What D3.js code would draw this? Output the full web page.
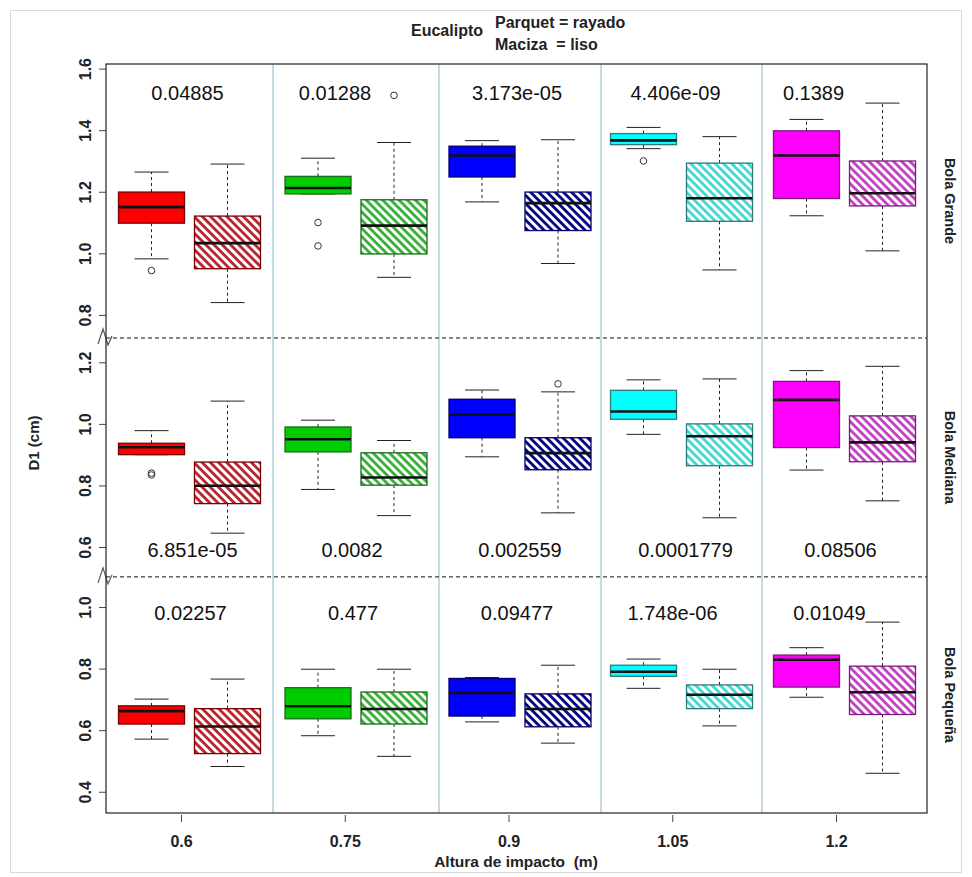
<!DOCTYPE html>
<html>
<head>
<meta charset="utf-8">
<script src="https://cdn.jsdelivr.net/npm/d3@7"></script>
<style>
  body { margin: 0; background: #fff; }
  svg { font-family: "Liberation Sans", Arial, sans-serif; }
</style>
</head>
<body>
<svg id="chart" width="972" height="877"></svg>
<script>
// ---- Données ----
const alturas = ["0.6", "0.75", "0.9", "1.05", "1.2"];
const bolas = ["Bola Grande", "Bola Mediana", "Bola Pequeña"];
const superficies = ["Maciza", "Parquet"]; // liso, rayado

// [bigote inf, Q1, mediana, Q3, bigote sup] ; orden : (0.6 Maciza, 0.6 Parquet, 0.75 Maciza, ...)
const statsGrande = [
  [0.982, 1.098, 1.150, 1.199, 1.264],
  [0.840, 0.950, 1.033, 1.121, 1.290],
  [1.193, 1.193, 1.212, 1.250, 1.309],
  [0.922, 0.998, 1.090, 1.174, 1.360],
  [1.167, 1.248, 1.318, 1.348, 1.366],
  [0.967, 1.074, 1.163, 1.199, 1.369],
  [1.340, 1.353, 1.367, 1.389, 1.409],
  [0.946, 1.104, 1.179, 1.293, 1.379],
  [1.122, 1.178, 1.318, 1.398, 1.435],
  [1.008, 1.154, 1.195, 1.300, 1.488]
];
const outliersGrande = [[0.944], [], [1.100, 1.024], [1.513], [], [], [1.300], [], [], []];

const statsMediana = [
  [0.900, 0.900, 0.924, 0.937, 0.978],
  [0.645, 0.741, 0.799, 0.876, 1.074],
  [0.787, 0.909, 0.950, 0.990, 1.012],
  [0.702, 0.801, 0.826, 0.906, 0.946],
  [0.893, 0.955, 1.030, 1.080, 1.110],
  [0.711, 0.851, 0.905, 0.955, 1.104],
  [0.966, 1.015, 1.040, 1.109, 1.143],
  [0.695, 0.864, 0.960, 1.000, 1.146],
  [0.850, 0.923, 1.078, 1.138, 1.173],
  [0.750, 0.877, 0.940, 1.026, 1.187]
];
const outliersMediana = [[0.840, 0.834], [], [], [], [], [1.130], [], [], [], []];

const statsPequena = [
  [0.571, 0.620, 0.662, 0.679, 0.701],
  [0.482, 0.524, 0.612, 0.670, 0.766],
  [0.582, 0.637, 0.678, 0.738, 0.798],
  [0.515, 0.620, 0.669, 0.724, 0.798],
  [0.627, 0.646, 0.721, 0.768, 0.771],
  [0.558, 0.611, 0.669, 0.718, 0.811],
  [0.736, 0.775, 0.790, 0.811, 0.831],
  [0.614, 0.670, 0.715, 0.747, 0.798],
  [0.707, 0.740, 0.829, 0.844, 0.868],
  [0.460, 0.651, 0.723, 0.808, 0.951]
];
const outliersPequena = [[], [], [], [], [], [], [], [], [], []];

// p-valores
const pGrande = ["0.04885", "0.01288", "3.173e-05", "4.406e-09", "0.1389"];
const pMediana = ["6.851e-05", "0.0082", "0.002559", "0.0001779", "0.08506"];
const pPequena = ["0.02257", "0.477", "0.09477", "1.748e-06", "0.01049"];

// ticks eje y
const ticksGrande = [0.8, 1.0, 1.2, 1.4, 1.6];
const ticksMediana = [0.6, 0.8, 1.0, 1.2];
const ticksPequena = [0.4, 0.6, 0.8, 1.0];

// colores
const fillColors = ["#ff0000", "#00cd00", "#0000ff", "#00ffff", "#ff00ff"];
const hatchColors = ["#b8202a", "#33b033", "#000080", "#40d8d0", "#c040c0"];
const borderColors = ["#7a0000", "#1a6a1a", "#00006a", "#2a7a7a", "#7a1a7a"];

// ---- Mise en page ----
const svg = d3.select("#chart");
const plot = {left: 106, right: 927, top: 64, bottom: 813};
const font = "'Liberation Sans', Arial, sans-serif";

const filas = [
  {nombre: bolas[0], stats: statsGrande, out: outliersGrande, p: pGrande, ticks: ticksGrande,
   domain: [0.725, 1.615], pY: 1.52, pDx: [-2, -21, -3, -6, -31]},
  {nombre: bolas[1], stats: statsMediana, out: outliersMediana, p: pMediana, ticks: ticksMediana,
   domain: [0.503, 1.279], pY: 0.589, pDx: [3, -4, 0, 4, -4]},
  {nombre: bolas[2], stats: statsPequena, out: outliersPequena, p: pPequena, ticks: ticksPequena,
   domain: [0.331, 1.098], pY: 0.98, pDx: [1, -3, -3, -9, -15]}
];

// hauteur de chaque rangée proportionnelle à son étendue
const totalUnits = d3.sum(filas, f => f.domain[1] - f.domain[0]);
const k = (plot.bottom - plot.top) / totalUnits;
let yCursor = plot.top;
filas.forEach(f => {
  const h = (f.domain[1] - f.domain[0]) * k;
  f.y0 = yCursor;
  f.y1 = yCursor + h;
  f.y = d3.scaleLinear().domain(f.domain).range([f.y1, f.y0]);
  yCursor += h;
});

// panneaux (altura)
const xPanel = d3.scaleLinear().domain([0, 1, 2, 3, 4, 5]).range([106, 273, 439, 601, 762, 927]);
const boxOffset = 38, boxW = 66, capW = 34;

// cadre gris
svg.append("rect")
  .attr("x", 10.5).attr("y", 10.5).attr("width", 951).attr("height", 862)
  .attr("fill", "none").attr("stroke", "#d9d9d9");

// motifs hachurés
const defs = svg.append("defs");
const hs = 5.8;
hatchColors.forEach((c, i) => {
  const p = defs.append("pattern")
    .attr("id", "hatch" + i)
    .attr("patternUnits", "userSpaceOnUse")
    .attr("width", hs).attr("height", hs)
    .attr("patternTransform", "rotate(-45)");
  p.append("rect").attr("width", hs).attr("height", hs).attr("fill", "#fff");
  p.append("line")
    .attr("x1", 1.5).attr("y1", 0).attr("x2", 1.5).attr("y2", hs)
    .attr("stroke", c).attr("stroke-width", 2.8);
});

// séparateurs verticaux bleu clair
[1, 2, 3, 4].forEach(i => {
  svg.append("line")
    .attr("x1", xPanel(i)).attr("x2", xPanel(i))
    .attr("y1", plot.top).attr("y2", plot.bottom)
    .attr("stroke", "#9fc2d2").attr("stroke-width", 1.2);
});

// lignes pointillées entre rangées
filas.slice(1).forEach(f => {
  svg.append("line")
    .attr("x1", plot.left).attr("x2", plot.right)
    .attr("y1", f.y0).attr("y2", f.y0)
    .attr("stroke", "#111").attr("stroke-dasharray", "4,3");
});

// boîtes
filas.forEach(f => {
  const g = svg.append("g");
  f.stats.forEach((s, j) => {
    const i = Math.floor(j / 2), sup = j % 2;
    const cx = xPanel(i + 0.5) + (sup ? boxOffset : -boxOffset);
    const [lo, q1, med, q3, hi] = s;
    // moustaches
    g.append("line").attr("x1", cx).attr("x2", cx).attr("y1", f.y(q3)).attr("y2", f.y(hi))
      .attr("stroke", "#222").attr("stroke-dasharray", "3,3");
    g.append("line").attr("x1", cx).attr("x2", cx).attr("y1", f.y(q1)).attr("y2", f.y(lo))
      .attr("stroke", "#222").attr("stroke-dasharray", "3,3");
    g.append("line").attr("x1", cx - capW / 2).attr("x2", cx + capW / 2).attr("y1", f.y(hi)).attr("y2", f.y(hi))
      .attr("stroke", "#222");
    g.append("line").attr("x1", cx - capW / 2).attr("x2", cx + capW / 2).attr("y1", f.y(lo)).attr("y2", f.y(lo))
      .attr("stroke", "#222");
    // boîte
    g.append("rect")
      .attr("x", cx - boxW / 2).attr("width", boxW)
      .attr("y", f.y(q3)).attr("height", f.y(q1) - f.y(q3))
      .attr("fill", sup ? `url(#hatch${i})` : fillColors[i])
      .attr("stroke", borderColors[i]).attr("stroke-width", 1.3);
    // médiane
    g.append("line").attr("x1", cx - boxW / 2).attr("x2", cx + boxW / 2).attr("y1", f.y(med)).attr("y2", f.y(med))
      .attr("stroke", "#111").attr("stroke-width", 2.6);
    // valeurs extrêmes
    f.out[j].forEach(v => {
      g.append("circle").attr("cx", cx).attr("cy", f.y(v)).attr("r", 3.3)
        .attr("fill", "none").attr("stroke", "#333").attr("stroke-width", 1);
    });
  });

  // p-valores
  f.p.forEach((t, i) => {
    svg.append("text")
      .attr("x", xPanel(i + 0.5) + f.pDx[i]).attr("y", f.y(f.pY))
      .attr("text-anchor", "middle").attr("dominant-baseline", "central")
      .attr("font-size", 20).attr("fill", "#111")
      .text(t);
  });

  // axe y
  const ax = svg.append("g")
    .attr("transform", `translate(${plot.left},0)`)
    .call(d3.axisLeft(f.y).tickValues(f.ticks).tickFormat(d3.format(".1f")).tickSize(7).tickPadding(4));
  ax.select(".domain").remove();
  ax.selectAll(".tick line").attr("stroke", "#444");
  ax.selectAll(".tick text")
    .attr("font-family", font).attr("font-size", 16).attr("font-weight", "bold").attr("fill", "#222")
    .attr("transform", "rotate(-90)")
    .attr("x", 0).attr("dy", 0).attr("y", -15)
    .attr("text-anchor", "middle");

  // étiquette de rangée
  svg.append("text")
    .attr("transform", `translate(950,${(f.y0 + f.y1) / 2}) rotate(90)`)
    .attr("text-anchor", "middle").attr("dominant-baseline", "central")
    .attr("font-size", 14.5).attr("font-weight", "bold").attr("fill", "#222")
    .text(f.nombre);
});

// zigzags de coupure d'axe
filas.slice(1).forEach(f => {
  const y0 = f.y0, x0 = plot.left;
  svg.append("path")
    .attr("d", d3.line()([[x0 - 8, y0 + 6], [x0 - 3, y0 - 9], [x0 + 2, y0 + 7], [x0 + 6, y0 - 2]]))
    .attr("fill", "none").attr("stroke", "#555").attr("stroke-width", 1.2);
});

// cadre du graphique
svg.append("rect")
  .attr("x", plot.left).attr("y", plot.top)
  .attr("width", plot.right - plot.left).attr("height", plot.bottom - plot.top)
  .attr("fill", "none").attr("stroke", "#222").attr("stroke-width", 1.2);

// axe x
const xTick = d3.scalePoint().domain(alturas).range([181, 836]);
const axX = svg.append("g")
  .attr("transform", `translate(0,${plot.bottom + 2})`)
  .call(d3.axisBottom(xTick).tickSize(7).tickPadding(14));
axX.select(".domain").remove();
axX.selectAll(".tick line").attr("stroke", "#444");
axX.selectAll(".tick text")
  .attr("font-family", font).attr("font-size", 16).attr("font-weight", "bold").attr("fill", "#222");

// titres des axes
svg.append("text")
  .attr("x", 516).attr("y", 867)
  .attr("text-anchor", "middle")
  .attr("font-size", 15.5).attr("font-weight", "bold").attr("fill", "#222")
  .style("white-space", "pre").attr("xml:space", "preserve")
  .text("Altura de impacto  (m)");

svg.append("text")
  .attr("transform", "translate(33,443) rotate(-90)")
  .attr("text-anchor", "middle").attr("dominant-baseline", "central")
  .attr("font-size", 15).attr("font-weight", "bold").attr("fill", "#222")
  .text("D1 (cm)");

// titre
svg.append("text").attr("x", 411).attr("y", 36)
  .attr("font-size", 16).attr("font-weight", "bold").attr("fill", "#222")
  .text("Eucalipto");
svg.append("text").attr("x", 495).attr("y", 28)
  .attr("font-size", 16).attr("font-weight", "bold").attr("fill", "#222")
  .text("Parquet = rayado");
svg.append("text").attr("x", 495).attr("y", 50)
  .attr("font-size", 16).attr("font-weight", "bold").attr("fill", "#222")
  .attr("xml:space", "preserve").style("white-space", "pre")
  .text("Maciza  = liso");
</script>
</body>
</html>
